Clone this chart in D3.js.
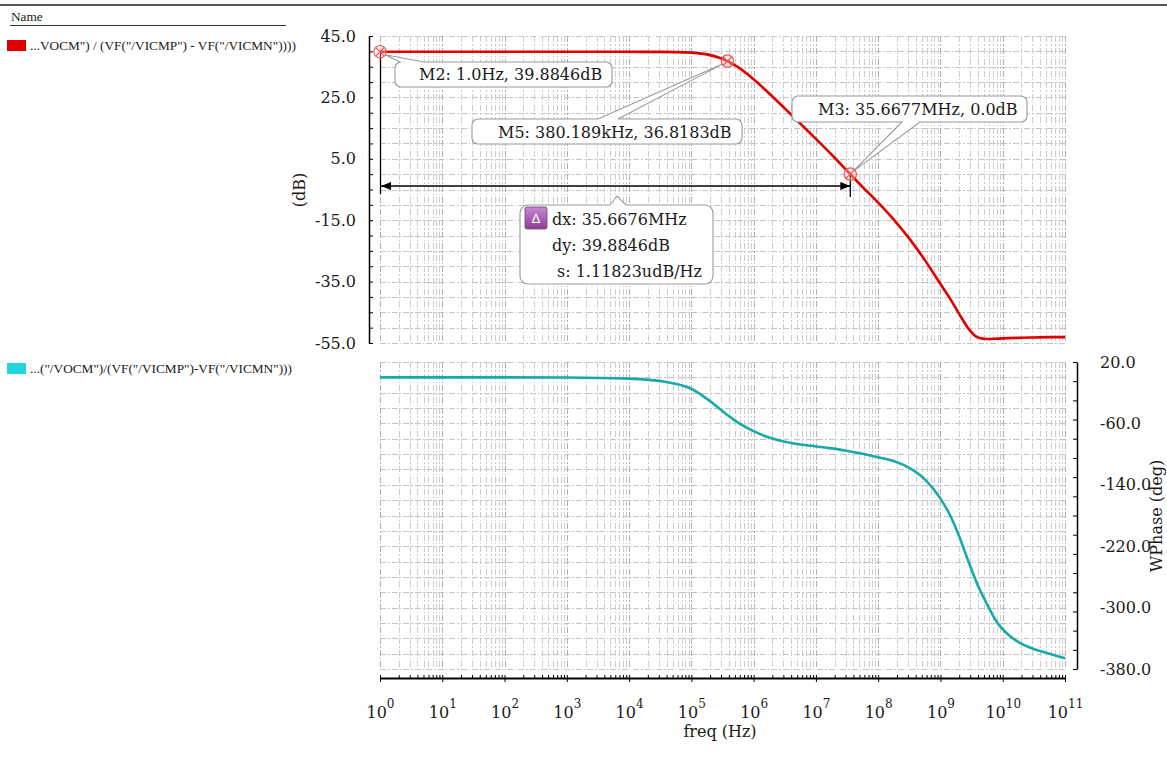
<!DOCTYPE html>
<html>
<head>
<meta charset="utf-8">
<script src="https://cdn.jsdelivr.net/npm/d3@7"></script>
<style>
  body { margin: 0; background: #fff; }
  svg { display: block; }
  .lbl { font-family: "DejaVu Serif", serif; font-size: 16px; fill: #1a1a1a; }
  .leg { font-family: "Liberation Serif", serif; font-size: 13.3px; fill: #1a1a1a; }
</style>
</head>
<body>
<svg id="chart" width="1167" height="771"></svg>
<script>
// ---- AC response samples ----
const freqHz = [1, 10, 100, 1e3, 1e4, 3.162e4, 1e5, 1.778e5, 3.80189e5, 5.623e5,
  1e6, 1.778e6, 3.162e6, 5.623e6, 1e7, 1.778e7, 3.56677e7, 5.623e7, 1e8, 1.778e8,
  3.162e8, 5.623e8, 1e9, 1.413e9, 1.995e9, 2.818e9, 3.981e9, 5.623e9, 7.943e9, 1.259e10,
  1.995e10, 3.162e10, 5.623e10, 1e11];
const gainDb = [39.8846, 39.8846, 39.8846, 39.88, 39.85, 39.82, 39.59, 39.02, 36.8183, 34.84,
  30.89, 26.28, 21.42, 16.46, 11.48, 6.4, 0.0, -4.2, -9.3, -14.8,
  -21.0, -28.0, -35.8, -40.4, -45.5, -50.3, -53.2, -53.7, -53.6, -53.4,
  -53.3, -53.2, -53.1, -53.1];
const phaseDeg = [0, 0, 0, -0.2, -1.6, -4.8, -14.9, -28, -49, -59,
  -70, -78.5, -84, -87.5, -90, -92.5, -96.5, -99.5, -104, -109,
  -118, -133, -158, -179, -207, -240, -271, -296, -318, -336,
  -347, -354, -360, -366];

// ---- series names ----
const seriesNames = [
  '...VOCM") / (VF("/VICMP") - VF("/VICMN"))))',
  '...("/VOCM")/(VF("/VICMP")-VF("/VICMN")))'
];

// ---- axis ticks ----
const decades = [0, 1, 2, 3, 4, 5, 6, 7, 8, 9, 10, 11];
const gainLabels = [45, 25, 5, -15, -35, -55];
const phaseLabels = [20, -60, -140, -220, -300, -380];

// ---- markers ----
const markerFreq = [1, 3.80189e5, 3.56677e7];
const markerGain = [39.8846, 36.8183, 0.0];
const markerText = ["M2: 1.0Hz, 39.8846dB", "M5: 380.189kHz, 36.8183dB", "M3: 35.6677MHz, 0.0dB"];
const deltaText = ["dx: 35.6676MHz", "dy: 39.8846dB", "s: 1.11823udB/Hz"];

const svg = d3.select("#chart");

const x = d3.scaleLog().domain([1, 1e11]).range([380, 1065]);
const yG = d3.scaleLinear().domain([-55, 45]).range([343, 36]);
const yP = d3.scaleLinear().domain([-380, 20]).range([669, 362]);

// header rule and legend
svg.append("line").attr("x1", 0).attr("x2", 1167).attr("y1", 5).attr("y2", 5)
  .attr("stroke", "#555").attr("stroke-width", 2);
svg.append("text").attr("class", "leg").attr("x", 11).attr("y", 21).text("Name");
svg.append("line").attr("x1", 10).attr("x2", 286).attr("y1", 25.5).attr("y2", 25.5)
  .attr("stroke", "#333").attr("stroke-width", 1);
const legendY = [46, 369];
const legendFill = ["#e00000", "#22d6dc"];
seriesNames.forEach((s, i) => {
  svg.append("rect").attr("x", 7).attr("y", legendY[i] - 6).attr("width", 19).attr("height", 11)
    .attr("fill", legendFill[i]);
  svg.append("text").attr("class", "leg").attr("x", 30).attr("y", legendY[i] + 4).text(s);
});

// grids
const minorFreqs = [];
decades.forEach(k => {
  for (let m = 1; m <= 9; m++) {
    const f = m * Math.pow(10, k);
    if (f <= 1e11) minorFreqs.push(f);
  }
});
function drawGrid(yScale, step) {
  const g = svg.append("g").attr("shape-rendering", "crispEdges");
  const [lo, hi] = yScale.domain();
  const y0 = yScale(hi), y1 = yScale(lo);
  g.selectAll(".h").data(d3.range(lo, hi + step / 2, step)).join("line")
    .attr("x1", x(1)).attr("x2", x(1e11))
    .attr("y1", d => Math.round(yScale(d)) + 0.5).attr("y2", d => Math.round(yScale(d)) + 0.5)
    .attr("stroke", "#c4c4c4").attr("stroke-dasharray", "6,2,1.5,2");
  g.selectAll(".v").data(minorFreqs).join("line")
    .attr("x1", d => Math.round(x(d)) + 0.5).attr("x2", d => Math.round(x(d)) + 0.5)
    .attr("y1", y0).attr("y2", y1)
    .attr("stroke", d => Number.isInteger(Math.log10(d)) ? "#b0b0b0" : "#cdcdcd")
    .attr("stroke-dasharray", "6,2,1.5,2");
}
drawGrid(yG, 5);
drawGrid(yP, 20);

// left gain axis
const fmt = d => d.toFixed(1);
svg.append("g").attr("transform", "translate(369,0)")
  .call(d3.axisLeft(yG).tickValues(d3.range(-55, 45.1, 5)).tickSizeInner(-4).tickSizeOuter(0).tickFormat(""))
  .call(g => { g.select(".domain").attr("stroke", "#000").attr("stroke-width", 1.5);
               g.selectAll(".tick line").attr("stroke", "#000"); });
svg.append("g").attr("transform", "translate(369,0)")
  .call(d3.axisLeft(yG).tickValues(gainLabels).tickSize(0).tickPadding(13).tickFormat(fmt))
  .call(g => { g.select(".domain").remove();
               g.selectAll("text").attr("class", "lbl").attr("font-family", null).attr("font-size", null); });
svg.append("text").attr("class", "lbl").attr("transform", "translate(305,190) rotate(-90)")
  .attr("text-anchor", "middle").text("(dB)");

// right phase axis
svg.append("g").attr("transform", "translate(1077,0)")
  .call(d3.axisRight(yP).tickValues(d3.range(20, -380.1, -25)).tickSizeInner(-4).tickSizeOuter(0).tickFormat(""))
  .call(g => { g.select(".domain").attr("stroke", "#000").attr("stroke-width", 1.5);
               g.selectAll(".tick line").attr("stroke", "#000"); });
svg.append("g").attr("transform", "translate(1077,0)")
  .call(d3.axisRight(yP).tickValues(phaseLabels).tickSize(0).tickPadding(23).tickFormat(fmt))
  .call(g => { g.select(".domain").remove();
               g.selectAll("text").attr("class", "lbl").attr("font-family", null).attr("font-size", null); });
svg.append("text").attr("class", "lbl").attr("transform", "translate(1162,516) rotate(-90)")
  .attr("text-anchor", "middle").text("WPhase (deg)");

// bottom frequency axis
svg.append("g").attr("transform", "translate(0,678)")
  .call(d3.axisBottom(x).tickValues(minorFreqs).tickSizeInner(-3).tickSizeOuter(0).tickFormat(""))
  .call(g => { g.select(".domain").attr("stroke", "#000").attr("stroke-width", 2);
               g.selectAll(".tick line").attr("stroke", "#000"); });
svg.append("g").attr("transform", "translate(0,678)")
  .call(d3.axisBottom(x).tickValues(decades.map(k => Math.pow(10, k))).tickSizeInner(4).tickSizeOuter(0).tickPadding(22).tickFormat(""))
  .call(g => {
    g.select(".domain").remove();
    g.selectAll(".tick line").attr("stroke", "#000");
    g.selectAll(".tick text").each(function(d) {
      const t = d3.select(this).attr("class", "lbl").attr("font-family", null).attr("font-size", null)
        .attr("font-size", "17px").attr("dy", null).attr("y", 40).attr("text-anchor", "middle");
      t.text("10");
      t.append("tspan").attr("dy", -10).attr("font-size", "12px").text(Math.round(Math.log10(d)));
    });
  });
svg.append("text").attr("class", "lbl").attr("x", 720).attr("y", 737).attr("text-anchor", "middle").text("freq (Hz)");

// curves
const gainLine = d3.line().x((d, i) => x(freqHz[i])).y(d => yG(d)).curve(d3.curveMonotoneX);
const phaseLine = d3.line().x((d, i) => x(freqHz[i])).y(d => yP(d)).curve(d3.curveMonotoneX);
svg.append("path").attr("d", phaseLine(phaseDeg)).attr("fill", "none")
  .attr("stroke", "#1aa9ab").attr("stroke-width", 2.6);
svg.append("path").attr("d", gainLine(gainDb)).attr("fill", "none")
  .attr("stroke", "#e00000").attr("stroke-width", 2.6);

// delta measurement between M2 and M3
const dxY = 186;
const xa = x(markerFreq[0]), xb = x(markerFreq[2]);
const dl = svg.append("g").attr("stroke", "#000").attr("stroke-width", 1.3);
dl.append("line").attr("x1", xa + 0.5).attr("x2", xa + 0.5).attr("y1", yG(markerGain[0])).attr("y2", dxY + 8);
dl.append("line").attr("x1", xb).attr("x2", xb).attr("y1", yG(markerGain[2])).attr("y2", dxY + 11);
dl.append("line").attr("x1", xa).attr("x2", xb).attr("y1", dxY).attr("y2", dxY);
svg.append("path").attr("d", `M${xa + 1},${dxY} l10,-4 l0,8 Z`).attr("fill", "#000");
svg.append("path").attr("d", `M${xb},${dxY} l-10,-4 l0,8 Z`).attr("fill", "#000");

// callout bubbles
function bubble(x0, y0, x1, y1, r, side, bx0, bx1, tx, ty) {
  if (side === "top") {
    return `M${x0 + r},${y0} L${bx0},${y0} L${tx},${ty} L${bx1},${y0} L${x1 - r},${y0}
      A${r},${r} 0 0 1 ${x1},${y0 + r} L${x1},${y1 - r} A${r},${r} 0 0 1 ${x1 - r},${y1}
      L${x0 + r},${y1} A${r},${r} 0 0 1 ${x0},${y1 - r} L${x0},${y0 + r} A${r},${r} 0 0 1 ${x0 + r},${y0} Z`;
  }
  return `M${x0 + r},${y0} L${x1 - r},${y0} A${r},${r} 0 0 1 ${x1},${y0 + r} L${x1},${y1 - r}
    A${r},${r} 0 0 1 ${x1 - r},${y1} L${bx1},${y1} L${tx},${ty} L${bx0},${y1} L${x0 + r},${y1}
    A${r},${r} 0 0 1 ${x0},${y1 - r} L${x0},${y0 + r} A${r},${r} 0 0 1 ${x0 + r},${y0} Z`;
}
const bubbleStyle = sel => sel.attr("fill", "#fff").attr("stroke", "#9a9a9a").attr("stroke-width", 1.1);

const mx = markerFreq.map(f => x(f));
const my = markerGain.map(g => yG(g));
svg.append("path").call(bubbleStyle)
  .attr("d", bubble(395, 62, 612, 87, 6, "top", 400, 424, mx[0] + 5, my[0] + 3));
svg.append("path").call(bubbleStyle)
  .attr("d", bubble(472, 119, 742, 144, 6, "top", 598, 618, mx[1] - 5, my[1] + 3));
svg.append("path").call(bubbleStyle)
  .attr("d", bubble(792, 96, 1027, 122, 6, "bottom", 902, 920, mx[2] + 3, my[2] - 3));
svg.append("path").call(bubbleStyle)
  .attr("d", bubble(520, 205, 713, 284, 8, "top", 610, 626, 617, dxY + 10));

svg.append("text").attr("class", "lbl").attr("x", 419).attr("y", 80).text(markerText[0]);
svg.append("text").attr("class", "lbl").attr("x", 498).attr("y", 138).text(markerText[1]);
svg.append("text").attr("class", "lbl").attr("x", 818).attr("y", 115).text(markerText[2]);

// delta icon
const defs = svg.append("defs");
const grad = defs.append("linearGradient").attr("id", "deltaGrad").attr("x1", 0).attr("y1", 0).attr("x2", 0).attr("y2", 1);
grad.append("stop").attr("offset", "0%").attr("stop-color", "#c88ad0");
grad.append("stop").attr("offset", "100%").attr("stop-color", "#8e3c96");
svg.append("rect").attr("x", 525).attr("y", 207).attr("width", 22).attr("height", 22).attr("rx", 2)
  .attr("fill", "url(#deltaGrad)").attr("stroke", "#7a3a80").attr("stroke-width", 0.8);
svg.append("text").attr("x", 536).attr("y", 223).attr("text-anchor", "middle")
  .attr("font-family", "DejaVu Sans, sans-serif").attr("font-size", "13px").attr("fill", "#fff").text("Δ");
svg.append("text").attr("class", "lbl").attr("x", 552).attr("y", 225).text(deltaText[0]);
svg.append("text").attr("class", "lbl").attr("x", 552).attr("y", 251).text(deltaText[1]);
svg.append("text").attr("class", "lbl").attr("x", 557).attr("y", 277).text(deltaText[2]);

// marker symbols
mx.forEach((cx, i) => {
  const g = svg.append("g").attr("transform", `translate(${cx},${my[i]})`)
    .attr("stroke", "#ea5a5a").attr("stroke-width", 1.2).attr("fill", "none");
  g.append("circle").attr("r", 6.2).attr("fill", "rgba(255,200,200,0.35)");
  g.append("line").attr("x1", -4.4).attr("y1", -4.4).attr("x2", 4.4).attr("y2", 4.4);
  g.append("line").attr("x1", -4.4).attr("y1", 4.4).attr("x2", 4.4).attr("y2", -4.4);
});
</script>
</body>
</html>
